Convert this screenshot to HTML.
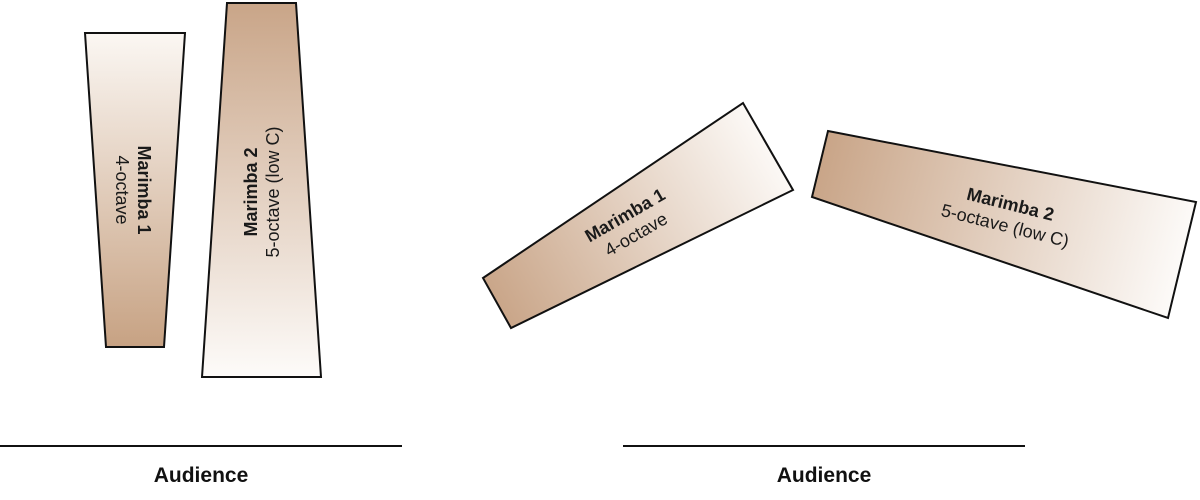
<!DOCTYPE html>
<html><head><meta charset="utf-8"><style>
html,body{margin:0;padding:0;background:#fff;}
svg{display:block;font-family:"Liberation Sans",sans-serif;}
</style></head><body>
<svg width="1200" height="500" viewBox="0 0 1200 500" xmlns="http://www.w3.org/2000/svg">
<defs>
<linearGradient id="g1" gradientUnits="userSpaceOnUse" x1="0" y1="33" x2="0" y2="347"><stop offset="0" stop-color="#fbf7f3"/><stop offset="1" stop-color="#c7a283"/></linearGradient>
<linearGradient id="g2" gradientUnits="userSpaceOnUse" x1="0" y1="3" x2="0" y2="377"><stop offset="0" stop-color="#c9a588"/><stop offset="1" stop-color="#fdfbf9"/></linearGradient>
<linearGradient id="g3" gradientUnits="userSpaceOnUse" x1="495" y1="305" x2="770" y2="145"><stop offset="0" stop-color="#c9a588"/><stop offset="1" stop-color="#fcf9f6"/></linearGradient>
<linearGradient id="g4" gradientUnits="userSpaceOnUse" x1="820" y1="165" x2="1185" y2="260"><stop offset="0" stop-color="#c9a588"/><stop offset="1" stop-color="#fdfbf9"/></linearGradient>
</defs>
<polygon points="85,33 185,33 164,347 106,347" fill="url(#g1)" stroke="#111" stroke-width="2"/>
<polygon points="227,3 296,3 321,377 202,377" fill="url(#g2)" stroke="#111" stroke-width="2"/>
<g transform="translate(134,190) rotate(90)" font-size="18" fill="#1a1a1a" text-anchor="middle">
<text x="0" y="-4" font-weight="bold">Marimba 1</text>
<text x="0" y="18">4-octave</text>
</g>
<g transform="translate(261,192) rotate(-90)" font-size="18" fill="#1a1a1a" text-anchor="middle">
<text x="0" y="-4" font-weight="bold">Marimba 2</text>
<text x="0" y="18">5-octave (low C)</text>
</g>
<polygon points="483,278 743,103 793,190 511,328" fill="url(#g3)" stroke="#111" stroke-width="2"/>
<polygon points="828,131 1196,202 1168,318 812,197" fill="url(#g4)" stroke="#111" stroke-width="2"/>
<g transform="translate(630,224) rotate(-30)" font-size="18" fill="#1a1a1a" text-anchor="middle">
<text x="0" y="-4" font-weight="bold">Marimba 1</text>
<text x="0" y="18">4-octave</text>
</g>
<g transform="translate(1008,214) rotate(14)" font-size="18" fill="#1a1a1a" text-anchor="middle">
<text x="0" y="-4" font-weight="bold">Marimba 2</text>
<text x="0" y="18">5-octave (low C)</text>
</g>
<line x1="0" y1="446" x2="402" y2="446" stroke="#111" stroke-width="2"/>
<line x1="623" y1="446" x2="1025" y2="446" stroke="#111" stroke-width="2"/>
<text x="201" y="482" font-size="21" font-weight="bold" text-anchor="middle" fill="#111">Audience</text>
<text x="824" y="482" font-size="21" font-weight="bold" text-anchor="middle" fill="#111">Audience</text>
</svg>
</body></html>
